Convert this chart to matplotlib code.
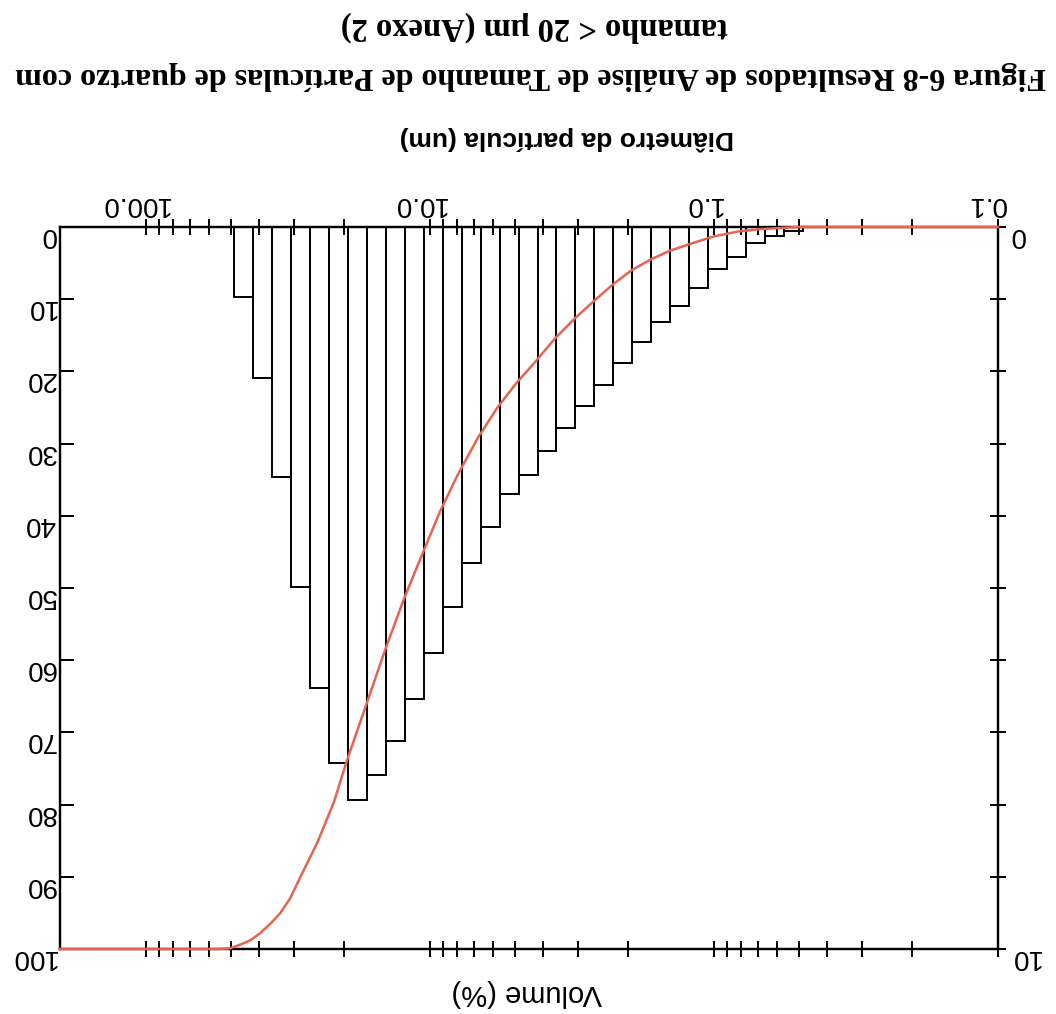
import numpy as np
import matplotlib
matplotlib.use("Agg")
import matplotlib.pyplot as plt
from matplotlib.ticker import FixedLocator, FixedFormatter, NullFormatter
from matplotlib.transforms import ScaledTranslation

# bin edges (um) and volume per bin (%)
edges = [0.486, 0.567, 0.661, 0.771, 0.899, 1.048, 1.222, 1.425, 1.661, 1.936,
         2.258, 2.633, 3.069, 3.579, 4.173, 4.864, 5.672, 6.613, 7.709, 8.989,
         10.48, 12.22, 14.25, 16.61, 19.36, 22.58, 26.33, 30.69, 35.79, 41.73, 48.64]
vol_pct = [0.06, 0.13, 0.22, 0.41, 0.58, 0.84, 1.09, 1.31, 1.59, 1.89,
           2.19, 2.48, 2.79, 3.10, 3.43, 3.70, 4.15, 4.65, 5.26, 5.90,
           6.54, 7.12, 7.59, 7.94, 7.43, 6.39, 4.99, 3.46, 2.09, 0.97]

# cumulative curve
diam_curve = [0.1, 0.50, 0.56, 0.693, 0.816, 1.0, 1.225, 1.431, 1.669, 1.949,
              2.257, 2.633, 3.073, 3.617, 4.256, 4.927, 5.799, 6.768, 7.964, 9.244,
              10.59, 12.29, 14.27, 16.80, 19.60, 21.71, 24.88, 28.50, 30.99, 33.53,
              36.37, 39.47, 42.80, 46.43, 50.37, 55.0, 200.0]
cum_pct = [0, 0, 0.1, 0.3, 0.6, 1.3, 2.4, 3.3, 4.5, 6.0,
           7.9, 10.2, 12.6, 15.4, 18.7, 21.5, 25.1, 29.2, 34.3, 39.6,
           45.2, 51.4, 58.3, 66.4, 74.0, 79.6, 85.3, 90.0, 93.0, 95.0,
           96.5, 97.8, 98.8, 99.4, 99.9, 100, 100]

major_x = [0.1, 1.0, 10.0, 100.0]
major_x_labels = ["0.1", "1.0", "10.0", "100.0"]
minor_x = [0.2, 0.3, 0.4, 0.5, 0.6, 0.7, 0.8, 0.9,
           2, 3, 4, 5, 6, 7, 8, 9,
           20, 30, 40, 50, 60, 70, 80, 90]

sans = "Liberation Sans"
serif = "Liberation Serif"

fig = plt.figure(figsize=(10.56, 10.14), dpi=100)
ax = fig.add_axes([60/1056, 1-949/1014, (998-60)/1056, (949-227)/1014])
ax2 = ax.twinx()

# histogram (0-10 axis), picture is upside down so axes are inverted
left = np.array(edges[:-1])
widths = np.diff(edges)
ax.bar(left, vol_pct, width=widths, align="edge", fill=False,
       edgecolor="black", linewidth=1.4)
ax.set_xscale("log")
ax.set_xlim(200, 0.1)
ax.set_ylim(10, 0)

ax2.plot(diam_curve, cum_pct, color="#e8644f", linewidth=1.8, zorder=3, clip_on=False)
ax2.set_ylim(100, 0)

ax.xaxis.set_major_locator(FixedLocator(major_x))
ax.xaxis.set_major_formatter(FixedFormatter(major_x_labels))
ax.xaxis.set_minor_locator(FixedLocator(minor_x))
ax.xaxis.set_minor_formatter(NullFormatter())
ax.tick_params(axis="x", which="both", direction="inout", length=12, width=1.4,
               top=True, bottom=True, labeltop=True, labelbottom=False,
               labelrotation=180, labelsize=20, pad=1)

ax.yaxis.tick_right()
ax.set_yticks(range(0, 11))
ax.set_yticklabels(["0"] + [""] * 9 + ["10"])
ax.tick_params(axis="y", direction="inout", length=12, width=1.4,
               labelrotation=180, labelsize=20, pad=2)

ax2.yaxis.tick_left()
ax2.set_yticks(range(0, 101, 10))
ax2.tick_params(axis="y", direction="in", length=10, width=1.4,
                labelrotation=180, labelsize=20, pad=3)

for a in (ax, ax2):
    for s in a.spines.values():
        s.set_linewidth(1.6)
    for lbl in a.get_xticklabels() + a.get_yticklabels():
        lbl.set_fontfamily(sans)

dx = ScaledTranslation(-0.11, 0, fig.dpi_scale_trans)
for lbl in ax.get_xticklabels():
    lbl.set_transform(lbl.get_transform() + dx)
dy = ScaledTranslation(0, -0.05, fig.dpi_scale_trans)
for lbl in ax.get_yticklabels() + ax2.get_yticklabels():
    lbl.set_transform(lbl.get_transform() + dy)

fig.text(527/1056, 1-993/1014, "Volume (%)", rotation=180, ha="center", va="center",
         fontsize=21, family=sans)
fig.text(567/1056, 1-138/1014, "Diâmetro da partícula (um)", rotation=180,
         ha="center", va="center", fontsize=19, family=sans, fontweight="bold")
fig.text(531/1056, 1-75/1014,
         "Figura 6-8 Resultados de Análise de Tamanho de Partículas de quartzo com",
         rotation=180, ha="center", va="center", fontsize=23, family=serif,
         fontweight="bold")
fig.text(534/1056, 1-27/1014, "tamanho < 20 µm (Anexo 2)", rotation=180,
         ha="center", va="center", fontsize=23.5, family=serif, fontweight="bold")

fig.savefig("out.png", dpi=100)
